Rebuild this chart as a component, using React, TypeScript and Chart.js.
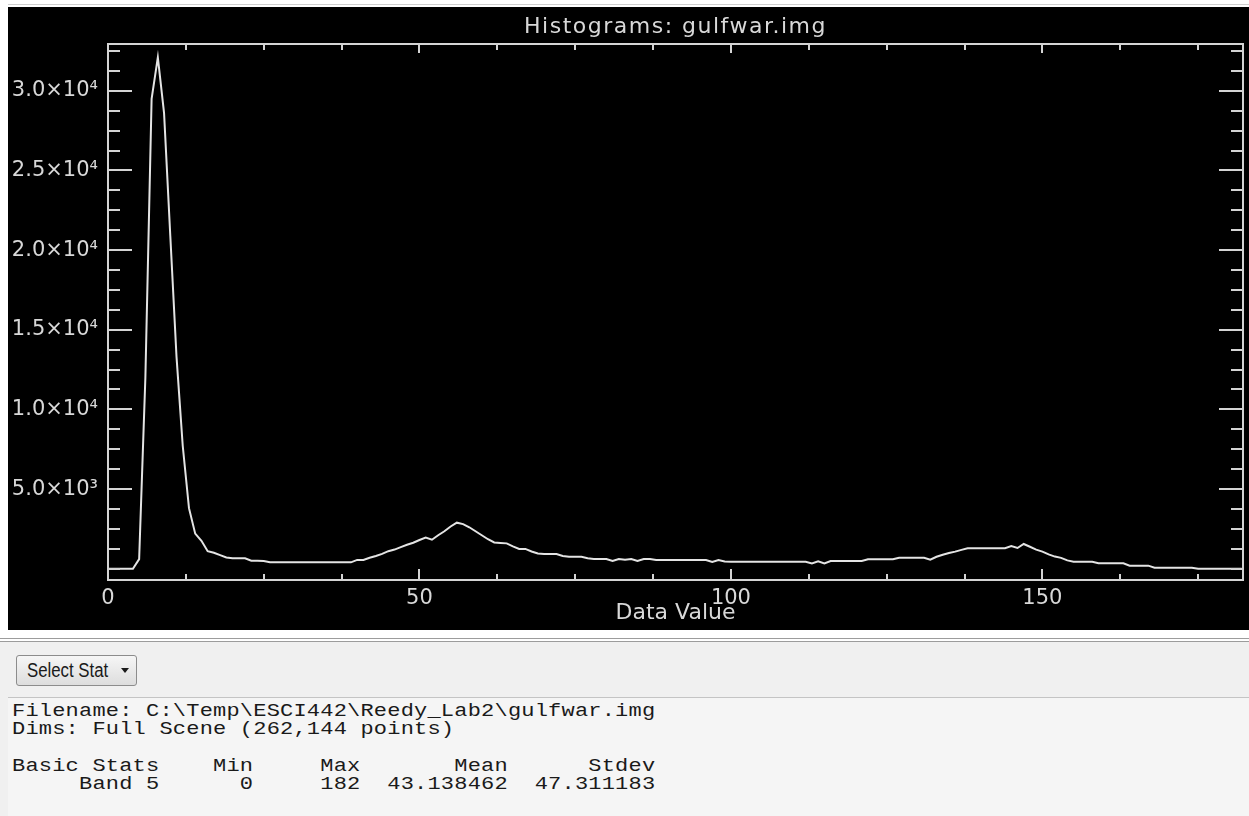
import React, { useEffect, useRef } from "react";
import { Chart, registerables } from "chart.js";

Chart.register(...registerables);

// ---------- data ----------
const TITLE = "Histograms: gulfwar.img";
const X_TITLE = "Data Value";
const X_TICKS = [0, 50, 100, 150];
const X_TICK_LABELS = ["0", "50", "100", "150"];
const Y_TICKS = [5000, 10000, 15000, 20000, 25000, 30000];
const Y_TICK_LABELS = ["5.0×10³", "1.0×10⁴", "1.5×10⁴", "2.0×10⁴", "2.5×10⁴", "3.0×10⁴"];
const X_RANGE = [0, 182.2];
const Y_RANGE = [-710, 32940];
const X_MINOR_STEP = 12.5;
const Y_MINOR_STEP = 1250;

// histogram counts for data values 0..182 (Band 5)
const COUNTS = [
  0, 0, 0, 0, 0, 600, 12000, 29500, 32100, 28600,
  20900, 13300, 7700, 3800, 2200, 1750, 1100, 1000, 850, 700,
  650, 650, 650, 500, 500, 480, 400, 400, 400, 400,
  400, 400, 400, 400, 400, 400, 400, 400, 400, 400,
  550, 550, 690, 800, 930, 1100, 1200, 1350, 1500, 1630,
  1800, 1950, 1820, 2100, 2350, 2650, 2890, 2800, 2600, 2350,
  2100, 1850, 1650, 1620, 1590, 1400, 1240, 1240, 1080, 950,
  920, 920, 920, 800, 750, 750, 750, 650, 610, 610,
  610, 480, 610, 560, 610, 480, 610, 610, 550, 550,
  550, 550, 550, 550, 550, 550, 550, 420, 550, 450,
  440, 440, 440, 440, 440, 440, 440, 440, 440, 440,
  440, 440, 440, 330, 460, 330, 480, 480, 480, 480,
  480, 480, 590, 590, 590, 590, 590, 690, 690, 690,
  690, 690, 560, 750, 870, 980, 1070, 1180, 1280, 1280,
  1280, 1280, 1280, 1280, 1280, 1420, 1300, 1550, 1380, 1200,
  1070, 900, 760, 680, 520, 440, 440, 440, 440, 340,
  340, 340, 340, 340, 190, 190, 190, 190, 60, 60,
  60, 60, 60, 60, 60, 0, 0, 0, 0, 0,
  0, 0, 0,
];
const BINS = COUNTS.map((_, i) => i);

const INFO_LINES = [
  "Filename: C:\\Temp\\ESCI442\\Reedy_Lab2\\gulfwar.img",
  "Dims: Full Scene (262,144 points)",
  "",
  "Basic Stats    Min     Max       Mean      Stdev",
  "     Band 5      0     182  43.138462  47.311183",
];
const BUTTON_TEXT = "Select Stat";

// ---------- styles ----------
const AXIS_COLOR = "#d4d4d4";
const LABEL_COLOR = "#d8d8d8";
const LINE_COLOR = "#e4e4e4";
const FONT = "'DejaVu Sans', sans-serif";

const idlAxes = {
  id: "idlAxes",
  beforeDraw(chart: any) {
    const { ctx, width, height } = chart;
    ctx.save();
    ctx.fillStyle = "#000";
    ctx.fillRect(0, 0, width, height);
    ctx.restore();
  },
  afterDraw(chart: any) {
    const { ctx, chartArea: a, scales } = chart;
    const xs = scales.x;
    const ys = scales.y;
    ctx.save();
    ctx.strokeStyle = AXIS_COLOR;
    ctx.lineWidth = 2;
    ctx.strokeRect(a.left, a.top, a.right - a.left, a.bottom - a.top);
    ctx.beginPath();
    for (let v = 0; v <= Y_RANGE[1]; v += Y_MINOR_STEP) {
      const y = Math.round(ys.getPixelForValue(v));
      const major = Y_TICKS.includes(v);
      const len = major ? 24 : 12;
      ctx.moveTo(a.left, y);
      ctx.lineTo(a.left + len, y);
      ctx.moveTo(a.right, y);
      ctx.lineTo(a.right - len, y);
    }
    for (let v = X_RANGE[0]; v <= X_RANGE[1]; v += X_MINOR_STEP) {
      const x = Math.round(xs.getPixelForValue(v));
      const major = X_TICKS.includes(v);
      ctx.moveTo(x, a.bottom);
      ctx.lineTo(x, a.bottom - (major ? 11 : 6));
      ctx.moveTo(x, a.top);
      ctx.lineTo(x, a.top + (major ? 9 : 6));
    }
    ctx.stroke();
    ctx.fillStyle = LABEL_COLOR;
    ctx.font = `22px ${FONT}`;
    ctx.textAlign = "center";
    ctx.textBaseline = "middle";
    (ctx as any).letterSpacing = "1.5px";
    ctx.fillText(TITLE, (a.left + a.right) / 2, 20);
    ctx.restore();
  },
};

function HistogramChart() {
  const ref = useRef<HTMLCanvasElement | null>(null);
  useEffect(() => {
    if (!ref.current) return;
    const chart = new Chart(ref.current, {
      type: "line",
      data: {
        labels: BINS,
        datasets: [
          {
            data: COUNTS,
            borderColor: LINE_COLOR,
            borderWidth: 2,
            pointRadius: 0,
            tension: 0,
            fill: false,
          },
        ],
      },
      options: {
        animation: false,
        responsive: false,
        maintainAspectRatio: false,
        devicePixelRatio: 1,
        layout: { padding: { top: 37, right: 6, left: 0, bottom: 0 } },
        plugins: {
          legend: { display: false },
          tooltip: { enabled: false },
          title: { display: false },
        },
        scales: {
          x: {
            type: "linear",
            min: X_RANGE[0],
            max: X_RANGE[1],
            grid: { display: false },
            border: { display: false },
            afterBuildTicks: (s: any) => {
              s.ticks = X_TICKS.map((v) => ({ value: v }));
            },
            afterFit: (s: any) => {
              s.height = 50;
            },
            ticks: {
              color: LABEL_COLOR,
              font: { family: FONT, size: 21 },
              padding: -2,
              maxRotation: 0,
              autoSkip: false,
              callback: (v: any) => {
                const i = X_TICKS.indexOf(Number(v));
                return i >= 0 ? X_TICK_LABELS[i] : "";
              },
            },
            title: {
              display: true,
              text: X_TITLE,
              color: LABEL_COLOR,
              font: { family: FONT, size: 22 },
              padding: { top: 0, bottom: 4 },
            },
          },
          y: {
            type: "linear",
            min: Y_RANGE[0],
            max: Y_RANGE[1],
            grid: { display: false },
            border: { display: false },
            afterBuildTicks: (s: any) => {
              s.ticks = Y_TICKS.map((v) => ({ value: v }));
            },
            afterFit: (s: any) => {
              s.width = 100;
            },
            ticks: {
              color: LABEL_COLOR,
              font: { family: FONT, size: 21 },
              padding: 2,
              autoSkip: false,
              callback: (v: any) => {
                const i = Y_TICKS.indexOf(Number(v));
                return i >= 0 ? Y_TICK_LABELS[i] : "";
              },
            },
          },
        },
      },
      plugins: [idlAxes],
    } as any);
    return () => chart.destroy();
  }, []);
  return (
    <canvas
      ref={ref}
      width={1241}
      height={623}
      style={{ position: "absolute", left: 8, top: 7, width: 1241, height: 623 }}
    />
  );
}

export default function App() {
  return (
    <div
      style={{
        position: "fixed",
        left: 0,
        top: 0,
        width: 1249,
        height: 816,
        background: "#ffffff",
        overflow: "hidden",
      }}
    >
      <div style={{ position: "absolute", left: 8, right: 0, top: 4, height: 1, background: "#cfcfcf" }} />
      <HistogramChart />
      <div style={{ position: "absolute", left: 0, right: 0, top: 638, height: 1, background: "#9c9c9c" }} />
      <div style={{ position: "absolute", left: 0, right: 0, top: 641, height: 1, background: "#9c9c9c" }} />
      <div style={{ position: "absolute", left: 0, right: 0, top: 642, bottom: 0, background: "#f0f0f0" }} />
      <div
        style={{
          position: "absolute",
          left: 16,
          top: 655,
          width: 119,
          height: 29,
          border: "1px solid #8c8c8c",
          borderRadius: 3,
          background: "linear-gradient(#f6f6f6, #dddddd)",
        }}
      >
        <span
          style={{
            position: "absolute",
            left: 10,
            top: 3,
            fontFamily: "'Liberation Sans', Arial, sans-serif",
            fontSize: 20,
            lineHeight: "22px",
            color: "#1a1a1a",
            transform: "scaleX(0.84)",
            transformOrigin: "left top",
            whiteSpace: "nowrap",
          }}
        >
          {BUTTON_TEXT}
        </span>
        <span
          style={{
            position: "absolute",
            left: 104,
            top: 12,
            width: 0,
            height: 0,
            borderLeft: "4px solid transparent",
            borderRight: "4px solid transparent",
            borderTop: "5px solid #1a1a1a",
          }}
        />
      </div>
      <div style={{ position: "absolute", left: 8, right: 0, top: 697, height: 1, background: "#c4c4c4" }} />
      <div style={{ position: "absolute", left: 8, right: 0, top: 698, bottom: 0, background: "#f5f5f5" }} />
      <pre
        style={{
          position: "absolute",
          left: 12,
          top: 703,
          margin: 0,
          fontFamily: "'Liberation Mono', 'DejaVu Sans Mono', monospace",
          fontSize: 22,
          letterSpacing: "0.2px",
          lineHeight: "22.9px",
          color: "#1a1a1a",
          transform: "scaleY(0.8)",
          transformOrigin: "left top",
          whiteSpace: "pre",
        }}
      >
        {INFO_LINES.join("\n")}
      </pre>
    </div>
  );
}
